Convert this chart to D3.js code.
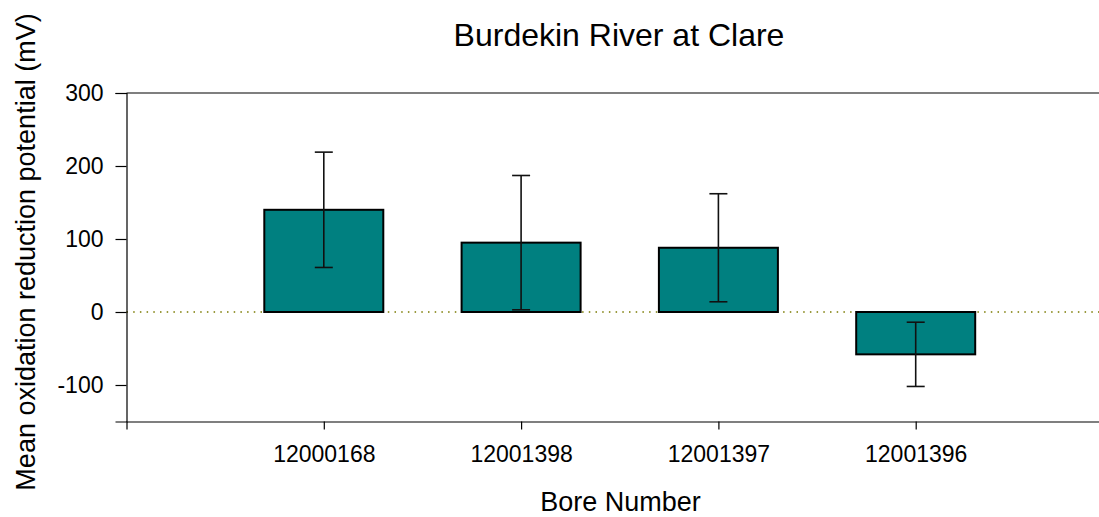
<!DOCTYPE html>
<html>
<head>
<meta charset="utf-8">
<script src="https://cdn.jsdelivr.net/npm/d3@7/dist/d3.min.js"></script>
<style>
  html, body { margin: 0; padding: 0; background: #fff; }
  svg { display: block; font-family: "Liberation Sans", Arial, sans-serif; }
</style>
</head>
<body>
<svg id="chart" width="1099" height="517"></svg>
<script>
// Bore numbers along the x axis
const bores = ["12000168", "12001398", "12001397", "12001396"];
// Mean oxidation reduction potential (mV) per bore
const meanORP = [140, 95, 88, -58];
// Error bar half-widths (mV)
const errORP = [79, 92, 74, 44];
// Y axis ticks
const yTicks = [-100, 0, 100, 200, 300];

(function () {
const svg = d3.select("#chart");
const plotL = 126.5, plotR = 1113, plotT = 93, plotB = 421.5;
const font = "Liberation Sans, Arial, sans-serif";

const y = d3.scaleLinear().domain([-150, 300]).range([plotB, plotT]);
// one empty slot on each side of the bores
const x = d3.scalePoint().domain(["", ...bores, " "]).range([plotL, plotR]);
const barW = 119;

// zero reference line
svg.append("line")
  .attr("x1", plotL).attr("x2", plotR)
  .attr("y1", y(0)).attr("y2", y(0))
  .attr("stroke", "#7a7a00").attr("stroke-width", 1.5)
  .attr("stroke-dasharray", "1.5,5.2");

// bars
svg.selectAll("rect.bar").data(bores).join("rect")
  .attr("class", "bar")
  .attr("x", d => x(d) - barW / 2)
  .attr("width", barW)
  .attr("y", (d, i) => y(Math.max(0, meanORP[i])))
  .attr("height", (d, i) => Math.abs(y(meanORP[i]) - y(0)))
  .attr("fill", "#008080")
  .attr("stroke", "#000").attr("stroke-width", 2);

// error bars
const eb = svg.selectAll("g.err").data(bores).join("g").attr("class", "err")
  .attr("stroke", "#111").attr("stroke-width", 1.6);
eb.append("line")
  .attr("x1", d => x(d)).attr("x2", d => x(d))
  .attr("y1", (d, i) => y(meanORP[i] + errORP[i]))
  .attr("y2", (d, i) => y(meanORP[i] - errORP[i]));
eb.append("line")
  .attr("x1", d => x(d) - 9).attr("x2", d => x(d) + 9)
  .attr("y1", (d, i) => y(meanORP[i] + errORP[i]))
  .attr("y2", (d, i) => y(meanORP[i] + errORP[i]));
eb.append("line")
  .attr("x1", d => x(d) - 9).attr("x2", d => x(d) + 9)
  .attr("y1", (d, i) => y(meanORP[i] - errORP[i]))
  .attr("y2", (d, i) => y(meanORP[i] - errORP[i]));

// top frame line
svg.append("line").attr("x1", plotL).attr("x2", plotR).attr("y1", plotT).attr("y2", plotT)
  .attr("stroke", "#000").attr("stroke-width", 1.2);

// y axis
const yAxis = svg.append("g")
  .attr("transform", `translate(${plotL},0)`)
  .call(d3.axisLeft(y).tickValues(yTicks).tickSize(11).tickPadding(12).tickFormat(d => String(d)));
yAxis.select(".domain").attr("stroke", "#000").attr("stroke-width", 1.2);
yAxis.selectAll(".tick line").attr("stroke", "#000").attr("stroke-width", 1.2);
yAxis.selectAll("text").attr("font-size", 23).attr("fill", "#000").attr("font-family", font);

// x axis
const xAxis = svg.append("g")
  .attr("transform", `translate(0,${plotB})`)
  .call(d3.axisBottom(x).tickValues(bores).tickSize(8).tickPadding(16));
xAxis.select(".domain").attr("stroke", "#000").attr("stroke-width", 1.2);
xAxis.selectAll(".tick line").attr("stroke", "#000").attr("stroke-width", 1.2);
xAxis.selectAll("text").attr("font-size", 23).attr("fill", "#000").attr("font-family", font);

// titles
svg.append("text").attr("x", 619).attr("y", 46).attr("text-anchor", "middle")
  .attr("font-size", 32).attr("fill", "#000").text("Burdekin River at Clare");
svg.append("text").attr("x", 620.5).attr("y", 511).attr("text-anchor", "middle")
  .attr("font-size", 27).attr("fill", "#000").text("Bore Number");
svg.append("text")
  .attr("transform", `translate(35,252) rotate(-90)`)
  .attr("text-anchor", "middle")
  .attr("font-size", 27).attr("fill", "#000").text("Mean oxidation reduction potential (mV)");
})();
</script>
</body>
</html>
